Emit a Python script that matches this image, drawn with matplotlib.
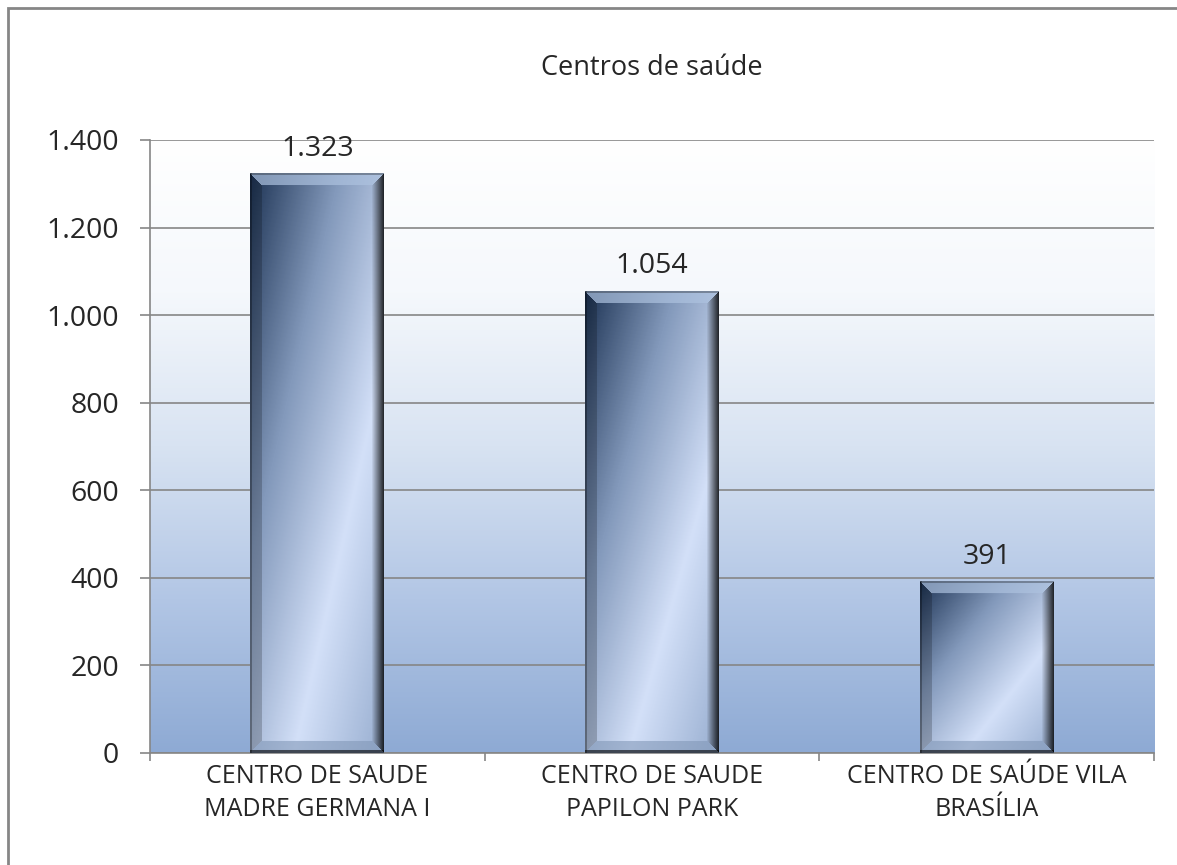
import numpy as np
import matplotlib.pyplot as plt
from matplotlib.colors import LinearSegmentedColormap, to_rgb
from matplotlib.patches import Rectangle

plt.rcParams['font.family'] = ['Open Sans', 'DejaVu Sans']

categories = ['CENTRO DE SAUDE\nMADRE GERMANA I',
              'CENTRO DE SAUDE\nPAPILON PARK',
              'CENTRO DE SAÚDE VILA\nBRASÍLIA']
values = [1323, 1054, 391]
value_labels = ['1.323', '1.054', '391']
yticks = [0, 200, 400, 600, 800, 1000, 1200, 1400]
ytick_labels = ['0', '200', '400', '600', '800', '1.000', '1.200', '1.400']

text_color = '#262626'
grid_color = '#868686'

fig = plt.figure(figsize=(11.77, 8.65), dpi=100)
ax = fig.add_axes([0.1274, 0.1295, 0.8531, 0.7087])

x = np.arange(len(values))
bars = ax.bar(x, values, width=0.40, color='none', zorder=3)

ax.set_xlim(-0.5, 2.5)
ax.set_ylim(0, 1400)

# background gradient, white at top to blue at bottom
bg = LinearSegmentedColormap.from_list('bg', ['#8eaad4', '#b2c6e5', '#d8e3f2', '#f5f8fc', '#ffffff'])
grad = np.linspace(0, 1, 256).reshape(-1, 1)
ax.imshow(grad, extent=[-0.5, 2.5, 0, 1400], origin='lower', aspect='auto',
          cmap=bg, zorder=0, interpolation='bilinear')

ax.set_yticks(yticks)
ax.set_yticklabels(ytick_labels)
ax.yaxis.grid(True, color=grid_color, linewidth=1.2, zorder=1)
ax.set_axisbelow(False)
ax.set_xticks(x)
ax.set_xticklabels(categories, linespacing=1.4)
ax.set_xticks([-0.5, 0.5, 1.5, 2.5], minor=True)
ax.tick_params(axis='x', which='major', length=0, pad=8, labelsize=18, labelcolor=text_color)
ax.tick_params(axis='x', which='minor', length=6, color=grid_color, width=1.2)
ax.tick_params(axis='y', length=7.2, color=grid_color, width=1.2, pad=15,
               labelsize=20.5, labelcolor=text_color)
for s in ['top', 'right']:
    ax.spines[s].set_visible(False)
for s in ['left', 'bottom']:
    ax.spines[s].set_color(grid_color)
    ax.spines[s].set_linewidth(1.2)
    ax.spines[s].set_zorder(2)

ax.set_title('Centros de saúde', fontsize=19.5, color=text_color, pad=47)

# beveled bar fill, built per bar in pixel space
fig.canvas.draw()
renderer = fig.canvas.get_renderer()
face = LinearSegmentedColormap.from_list(
    'face', ['#98aed0', '#d3e0f8', '#8399bb', '#1d3354'])
top_col = np.array(to_rgb('#adc2df'))
bot_col = np.array(to_rgb('#8298b8'))
for b, lab in zip(bars, value_labels):
    ext = b.get_window_extent(renderer)
    w = int(round(ext.width))
    h = int(round(ext.height))
    u = np.linspace(0, 1, w)[None, :]
    v = np.linspace(1, 0, h)[:, None]  # row 0 is top
    s = (v - u + 1) / 2
    img = face(s)[:, :, :3]
    jj = np.arange(w)[None, :] * np.ones((h, 1))
    ii = np.arange(h)[:, None] * np.ones((1, w))
    dl, dr = jj, w - 1 - jj
    dt, db = ii, h - 1 - ii
    bev = 12
    dmin = np.minimum(np.minimum(dl, dr), np.minimum(dt, db))
    top = (dt < bev) & (dt == dmin)
    bot = (db < bev) & (db == dmin)
    left = (dl < bev) & (dl == dmin) & ~top & ~bot
    right = (dr < bev) & (dr == dmin) & ~top & ~bot
    img[top] = img[top] * 0.3 + top_col * 0.7
    img[bot] = img[bot] * 0.4 + bot_col * 0.6
    img[left] = img[left] * 0.8
    fr = np.clip(dr / bev, 0, 1)
    shade = 0.2 + 0.8 * fr
    img = np.where(right[:, :, None], img * shade[:, :, None], img)
    img[(db < 3)] = img[(db < 3)] * 0.4
    img[(dt < 2)] = img[(dt < 2)] * 0.7
    img[(dl < 2)] = img[(dl < 2)] * 0.7
    x0, y0 = b.get_x(), b.get_y()
    ax.imshow(img, extent=[x0, x0 + b.get_width(), y0, y0 + b.get_height()],
              aspect='auto', zorder=3, interpolation='bilinear')
    ax.annotate(lab, (x0 + b.get_width() / 2, b.get_height()), xytext=(0, 8),
                textcoords='offset points', ha='center', va='bottom',
                fontsize=20.5, color=text_color, zorder=5)

ax.set_xlim(-0.5, 2.5)
ax.set_ylim(0, 1400)

# chart area border (left and top edges visible)
fig.add_artist(Rectangle((8 / 1177, -0.1), 1.2, 1.0908, transform=fig.transFigure,
                         fill=False, edgecolor='#868686', linewidth=2))

fig.savefig('out.png', dpi=100)
